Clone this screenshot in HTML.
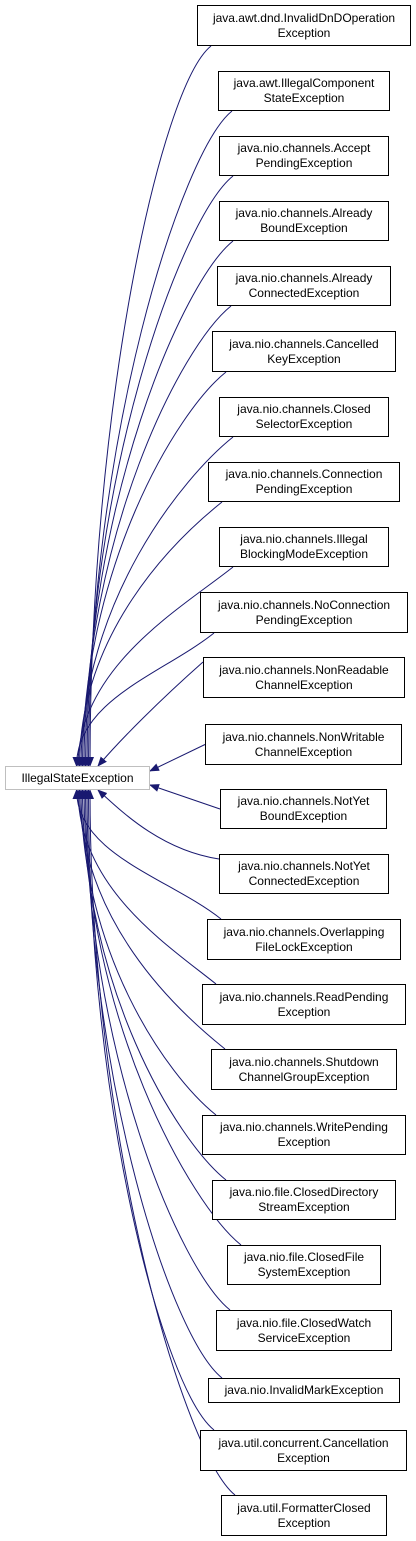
<!DOCTYPE html>
<html><head><meta charset="utf-8"><style>
body{margin:0;width:416px;height:1541px;background:#fff;position:relative;overflow:hidden;font-family:"Liberation Sans",Arial,sans-serif;}
.b{position:absolute;border:1px solid #000;background:#fff;box-sizing:border-box;font-size:12px;line-height:15px;text-align:center;display:flex;align-items:center;justify-content:center;color:#000;}
svg{position:absolute;left:0;top:0}
</style></head><body>
<svg id="s" width="416" height="1541"><defs><marker id="a" markerWidth="10" markerHeight="8" refX="9" refY="4" orient="auto" markerUnits="userSpaceOnUse"><path d="M0,0L10,4L0,8z" fill="#191970"/></marker></defs><g id="g" fill="none" stroke="#191970" stroke-width="1"></g></svg>
<div class="b" style="left:5px;top:766px;width:145px;height:24px;border-color:#bfbfbf">IllegalStateException</div>
<div class="b" style="left:197px;top:5px;width:214px;height:41px">java.awt.dnd.InvalidDnDOperation<br>Exception</div>
<div class="b" style="left:218px;top:71px;width:172px;height:40px">java.awt.IllegalComponent<br>StateException</div>
<div class="b" style="left:219px;top:136px;width:170px;height:40px">java.nio.channels.Accept<br>PendingException</div>
<div class="b" style="left:219px;top:201px;width:170px;height:40px">java.nio.channels.Already<br>BoundException</div>
<div class="b" style="left:217px;top:266px;width:174px;height:40px">java.nio.channels.Already<br>ConnectedException</div>
<div class="b" style="left:212px;top:331px;width:184px;height:41px">java.nio.channels.Cancelled<br>KeyException</div>
<div class="b" style="left:219px;top:397px;width:170px;height:40px">java.nio.channels.Closed<br>SelectorException</div>
<div class="b" style="left:208px;top:462px;width:192px;height:40px">java.nio.channels.Connection<br>PendingException</div>
<div class="b" style="left:219px;top:527px;width:170px;height:40px">java.nio.channels.Illegal<br>BlockingModeException</div>
<div class="b" style="left:200px;top:592px;width:208px;height:41px">java.nio.channels.NoConnection<br>PendingException</div>
<div class="b" style="left:203px;top:657px;width:202px;height:41px">java.nio.channels.NonReadable<br>ChannelException</div>
<div class="b" style="left:205px;top:724px;width:197px;height:41px">java.nio.channels.NonWritable<br>ChannelException</div>
<div class="b" style="left:220px;top:789px;width:167px;height:40px">java.nio.channels.NotYet<br>BoundException</div>
<div class="b" style="left:219px;top:854px;width:170px;height:40px">java.nio.channels.NotYet<br>ConnectedException</div>
<div class="b" style="left:207px;top:919px;width:194px;height:41px">java.nio.channels.Overlapping<br>FileLockException</div>
<div class="b" style="left:202px;top:984px;width:204px;height:41px">java.nio.channels.ReadPending<br>Exception</div>
<div class="b" style="left:211px;top:1049px;width:186px;height:41px">java.nio.channels.Shutdown<br>ChannelGroupException</div>
<div class="b" style="left:202px;top:1115px;width:204px;height:40px">java.nio.channels.WritePending<br>Exception</div>
<div class="b" style="left:212px;top:1180px;width:184px;height:40px">java.nio.file.ClosedDirectory<br>StreamException</div>
<div class="b" style="left:227px;top:1245px;width:154px;height:40px">java.nio.file.ClosedFile<br>SystemException</div>
<div class="b" style="left:216px;top:1310px;width:176px;height:41px">java.nio.file.ClosedWatch<br>ServiceException</div>
<div class="b" style="left:208px;top:1378px;width:192px;height:25px">java.nio.InvalidMarkException</div>
<div class="b" style="left:200px;top:1430px;width:207px;height:41px">java.util.concurrent.Cancellation<br>Exception</div>
<div class="b" style="left:221px;top:1495px;width:166px;height:41px">java.util.FormatterClosed<br>Exception</div>
<script>
var g=document.getElementById('g');
var bs=document.querySelectorAll('.b');
var d='';
for(var i=1;i<bs.length;i++){
 var b=bs[i];var l=b.offsetLeft,t=b.offsetTop,h=b.offsetHeight;
 var p;
 if(i==11){p='M'+(l)+','+(t+5)+'C160,700 120,740 98,766';}
 else if(i==12){p='M'+l+','+(t+h/2)+'L150,771';}
 else if(i==13){p='M'+l+','+(t+h/2)+'L150,785';}
 else if(i==14){p='M'+l+','+(t+5)+'C160,850 120,810 98,790';}
 else if(i<11){
  var k=11-i; var sx=l+14, sy=t+h;
  var ex=75+Math.min(k,10)*1.5;
  p='M'+sx+','+sy+'C'+(sx-50)+','+(sy+40)+' '+ex+','+(766-(766-sy)*0.5)+' '+ex+',766';
 } else {
  var k=i-14; var sx=l+14, sy=t;
  var ex=75+Math.min(k,10)*1.5;
  p='M'+sx+','+sy+'C'+(sx-50)+','+(sy-40)+' '+ex+','+(790+(sy-790)*0.5)+' '+ex+',790';
 }
 var e=document.createElementNS('http://www.w3.org/2000/svg','path');
 e.setAttribute('d',p);e.setAttribute('marker-end','url(#a)');g.appendChild(e);
}
</script>
</body></html>
